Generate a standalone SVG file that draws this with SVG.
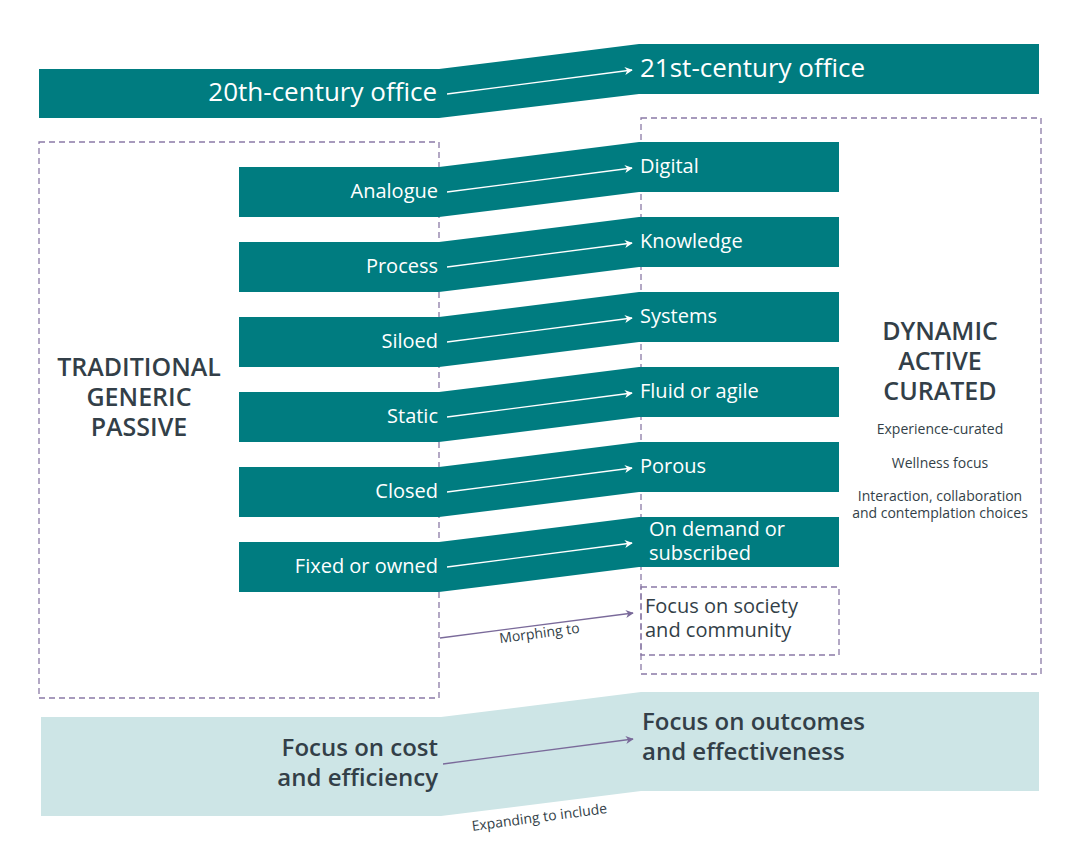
<svg xmlns="http://www.w3.org/2000/svg" width="1080" height="865" viewBox="0 0 1080 865">
<defs>
<style>
.t{fill:#007c80}
.lt{fill:#cde5e6}
.dash{fill:none;stroke:#8b7aa6;stroke-width:1.3;stroke-dasharray:6 4}
.wl{stroke:#fff;stroke-width:1.3;fill:none}
.pl{stroke:#7a6a9a;stroke-width:1.3;fill:none}
text{font-family:"Open Sans","Noto Sans","Liberation Sans",sans-serif}
.wt{fill:#fff;font-size:20px}
.big{fill:#fff;font-size:26px}
.dk{fill:#333f48}
.bt{fill:#333f48;font-size:24px;font-weight:600}
.hd{fill:#333f48;font-size:25px;font-weight:600;text-anchor:middle}
.sm{fill:#333f48;font-size:14px;text-anchor:middle}
.lab{fill:#333f48;font-size:14px;text-anchor:middle}
.r{text-anchor:end}
</style>
<marker id="aw" viewBox="0 0 10 10" refX="9" refY="5" markerWidth="8" markerHeight="8" orient="auto" markerUnits="userSpaceOnUse"><path d="M0,0 L10,5 L0,10 L3,5 Z" fill="#fff"/></marker>
<marker id="ap" viewBox="0 0 10 10" refX="9" refY="5" markerWidth="8" markerHeight="8" orient="auto" markerUnits="userSpaceOnUse"><path d="M0,0 L10,5 L0,10 L3,5 Z" fill="#7a6a9a"/></marker>
</defs>

<g id="frames">
<rect class="dash" x="39" y="142" width="400" height="556"/>
<rect class="dash" x="641" y="118" width="400" height="556"/>
</g>

<g id="office">
<rect class="t" x="39" y="69" width="400" height="49"/>
<polygon class="t" points="439,69 639,44 639,94 439,118"/>
<rect class="t" x="639" y="44" width="400" height="50"/>
<text class="big r" x="437" y="101">20th-century office</text>
<text class="big" x="640" y="77">21st-century office</text>
</g>

<g id="analogue">
<rect class="t" x="239" y="167" width="200" height="50"/>
<polygon class="t" points="439,167 639,142 639,192 439,217"/>
<rect class="t" x="639" y="142" width="200" height="50"/>
<text class="wt r" x="438" y="198">Analogue</text>
<text class="wt" x="640" y="173">Digital</text>
</g>
<g id="process">
<rect class="t" x="239" y="242" width="200" height="50"/>
<polygon class="t" points="439,242 639,217 639,267 439,292"/>
<rect class="t" x="639" y="217" width="200" height="50"/>
<text class="wt r" x="438" y="273">Process</text>
<text class="wt" x="640" y="248">Knowledge</text>
</g>
<g id="siloed">
<rect class="t" x="239" y="317" width="200" height="50"/>
<polygon class="t" points="439,317 639,292 639,342 439,367"/>
<rect class="t" x="639" y="292" width="200" height="50"/>
<text class="wt r" x="438" y="348">Siloed</text>
<text class="wt" x="640" y="323">Systems</text>
</g>
<g id="static">
<rect class="t" x="239" y="392" width="200" height="50"/>
<polygon class="t" points="439,392 639,367 639,417 439,442"/>
<rect class="t" x="639" y="367" width="200" height="50"/>
<text class="wt r" x="438" y="423">Static</text>
<text class="wt" x="640" y="398">Fluid or agile</text>
</g>
<g id="closed">
<rect class="t" x="239" y="467" width="200" height="50"/>
<polygon class="t" points="439,467 639,442 639,492 439,517"/>
<rect class="t" x="639" y="442" width="200" height="50"/>
<text class="wt r" x="438" y="498">Closed</text>
<text class="wt" x="640" y="473">Porous</text>
</g>
<g id="fixed">
<rect class="t" x="239" y="542" width="200" height="50"/>
<polygon class="t" points="439,542 639,517 639,567 439,592"/>
<rect class="t" x="639" y="517" width="200" height="50"/>
<text class="wt r" x="438" y="573">Fixed or owned</text>
<text class="wt" x="649" y="536">On demand or</text>
<text class="wt" x="649" y="560">subscribed</text>
</g>

<g id="society">
<rect class="dash" x="641" y="587" width="198" height="68"/>
<text class="wt dk" x="645" y="613">Focus on society</text>
<text class="wt dk" x="645" y="637">and community</text>
</g>

<g id="traditional">
<text class="hd" x="139" y="376">TRADITIONAL</text>
<text class="hd" x="139" y="406">GENERIC</text>
<text class="hd" x="139" y="436">PASSIVE</text>
</g>

<g id="dynamic">
<text class="hd" x="940" y="340">DYNAMIC</text>
<text class="hd" x="940" y="370">ACTIVE</text>
<text class="hd" x="940" y="400">CURATED</text>
<text class="sm" x="940" y="434">Experience-curated</text>
<text class="sm" x="940" y="468">Wellness focus</text>
<text class="sm" x="940" y="501">Interaction, collaboration</text>
<text class="sm" x="940" y="518">and contemplation choices</text>
</g>

<g id="focus">
<rect class="lt" x="41" y="717" width="400" height="99"/>
<polygon class="lt" points="441,717 641,692 641,791 441,816"/>
<rect class="lt" x="641" y="692" width="398" height="99"/>
<text class="bt r" x="438" y="756">Focus on cost</text>
<text class="bt r" x="438" y="786">and efficiency</text>
<text class="bt" x="642" y="730">Focus on outcomes</text>
<text class="bt" x="642" y="760">and effectiveness</text>
</g>

<g id="connectors">
<line class="wl" x1="447" y1="94" x2="632" y2="70" marker-end="url(#aw)"/>
<line class="wl" x1="447" y1="192" x2="632" y2="168" marker-end="url(#aw)"/>
<line class="wl" x1="447" y1="267" x2="632" y2="243" marker-end="url(#aw)"/>
<line class="wl" x1="447" y1="342" x2="632" y2="318" marker-end="url(#aw)"/>
<line class="wl" x1="447" y1="417" x2="632" y2="393" marker-end="url(#aw)"/>
<line class="wl" x1="447" y1="492" x2="632" y2="468" marker-end="url(#aw)"/>
<line class="wl" x1="447" y1="567" x2="632" y2="543" marker-end="url(#aw)"/>
<line class="pl" x1="440" y1="638" x2="633" y2="613" marker-end="url(#ap)"/>
<text class="lab" transform="translate(540,638) rotate(-7.5)">Morphing to</text>
<line class="pl" x1="443" y1="764" x2="633" y2="739" marker-end="url(#ap)"/>
<text class="lab" transform="translate(540,822) rotate(-7.5)">Expanding to include</text>
</g>
</svg>
